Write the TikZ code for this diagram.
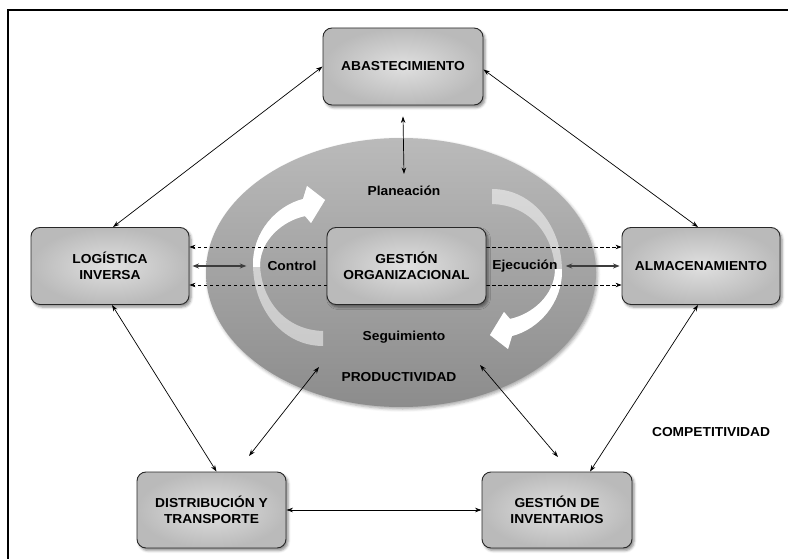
\documentclass[tikz,border=0pt]{standalone}
\usepackage{fontspec}
\setmainfont{Liberation Sans}[FakeStretch=1.06]
\usetikzlibrary{arrows.meta,shadows.blur,calc}
\definecolor{boxin}{RGB}{224,224,224}
\definecolor{boxout}{RGB}{186,186,186}
\definecolor{elltop}{RGB}{186,186,186}
\definecolor{ellbot}{RGB}{140,140,140}
\definecolor{edgecol}{RGB}{40,40,40}
\definecolor{biglinkcol}{RGB}{60,60,60}
\begin{document}
\begin{tikzpicture}[x=1pt,y=-1pt,
  every node/.style={font=\fontsize{13}{16.5}\selectfont\bfseries, text=black},
  box/.style={rectangle, rounded corners=9pt, draw=edgecol, line width=0.9pt,
    inner color=boxin, outer color=boxout, align=center, minimum height=77pt, inner sep=0pt,
    blur shadow={shadow xshift=2pt, shadow yshift=-2.5pt, shadow blur radius=2.5pt, shadow opacity=45}},
  lbl/.style={inner sep=1pt},
  link/.style={line width=0.7pt, draw=black, {Stealth[length=6.5pt,width=4.5pt]}-{Stealth[length=6.5pt,width=4.5pt]}},
  biglink/.style={line width=1.3pt, draw=biglinkcol, {Stealth[length=6.5pt,width=5pt]}-{Stealth[length=6.5pt,width=5pt]}},
  dashlink/.style={line width=0.6pt, draw=black, dash pattern=on 3.5pt off 2.5pt, -{Stealth[length=6pt,width=4.5pt]}},
  fadedarrow/.style={fill=white, fill opacity=0.5},
  whitearrow/.style={fill=white}
]
\useasboundingbox (0,0) rectangle (788,559);
% frame
\draw[line width=1.2pt] (8,559) -- (8,10) -- (788,10);

% ellipse
\shade[top color=elltop, bottom color=ellbot,
  blur shadow={shadow xshift=1.5pt, shadow yshift=-2pt, shadow blur radius=3pt, shadow opacity=35}]
  (401,272.5) ellipse [x radius=195, y radius=134.5];

% cycle arrows (left one, then rotated copy)
\foreach \ang in {0,180}{
\begin{scope}[rotate around={\ang:(407.5,267.5)}]
  \fill[fadedarrow] (323,346) .. controls (282,346) and (253,308) .. (253,264)
    .. controls (253,232) and (276,206) .. (303,199) -- (307,186) -- (325,200) -- (311,223) -- (305,216)
    .. controls (282,221) and (261,240) .. (260,264)
    .. controls (261,300) and (285,330) .. (323,331) -- cycle;
  \begin{scope}
    \clip (200,150) rectangle (340,266);
    \fill[whitearrow] (323,346) .. controls (282,346) and (253,308) .. (253,264)
      .. controls (253,232) and (276,206) .. (303,199) -- (307,186) -- (325,200) -- (311,223) -- (305,216)
      .. controls (282,221) and (261,240) .. (260,264)
      .. controls (261,300) and (285,330) .. (323,331) -- cycle;
  \end{scope}
\end{scope}
}

% boxes
\node[box, minimum width=160pt] (abast) at (403,66.5) {ABASTECIMIENTO};
\node[box, minimum width=158pt] (log) at (110,266) {LOGÍSTICA\\INVERSA};
\node[box, minimum width=158pt] (alm) at (701,266) {ALMACENAMIENTO};
\node[box, minimum width=149pt, minimum height=76pt] (dist) at (211.5,510) {DISTRIBUCIÓN Y\\TRANSPORTE};
\node[box, minimum width=150pt, minimum height=76pt] (gi) at (557,510) {GESTIÓN DE\\INVENTARIOS};

% dashed links
\draw[dashlink] ([yshift=19pt]log.east -| 327,0) -- ([yshift=19pt]log.east);
\draw[dashlink] ([yshift=-19pt]log.east -| 327,0) -- ([yshift=-19pt]log.east);
\draw[dashlink] ([yshift=19pt]alm.west -| 486,0) -- ([yshift=19pt]alm.west);
\draw[dashlink] ([yshift=-19pt]alm.west -| 486,0) -- ([yshift=-19pt]alm.west);

\node[box, minimum width=159pt] (go) at (406.5,266) {GESTIÓN\\ORGANIZACIONAL};

% labels
\node[lbl] (plan) at (404,191) {Planeación};
\node[lbl] (ctrl) at (292,266) {Control};
\node[lbl] (ejec) at (525,266) {Ejecución};
\node[lbl] (seg) at (404,337) {Seguimiento};
\node[lbl] (prod) at (399,377) {PRODUCTIVIDAD};
\node[lbl] (comp) at (711,432) {COMPETITIVIDAD};

% links
\draw[link] (abast.west) -- ([xshift=3pt]log.north);
\draw[link] ([yshift=-3pt]abast.east) -- ([xshift=-3pt]alm.north);
\draw[link] ([yshift=-11pt]abast.south) -- ([yshift=11pt]plan.north);
\draw[link] ([xshift=2pt]log.south) -- ([xshift=5pt]dist.north);
\draw[link] ([xshift=-3pt]alm.south) -- ([xshift=33pt]gi.north);
\draw[link] (dist.east) -- (gi.west);
\coordinate (q1) at (249,456);
\coordinate (q2) at (319,367);
\coordinate (q3) at (480,365);
\coordinate (q4) at (558,457);
\draw[link] (q1) -- (q2);
\draw[link] (q3) -- (q4);
\draw[biglink] ([xshift=3pt]log.east) -- ([xshift=-20pt]ctrl.west);
\draw[biglink] ([xshift=7pt]ejec.east) -- ([xshift=-2pt]alm.west);
\end{tikzpicture}
\end{document}
